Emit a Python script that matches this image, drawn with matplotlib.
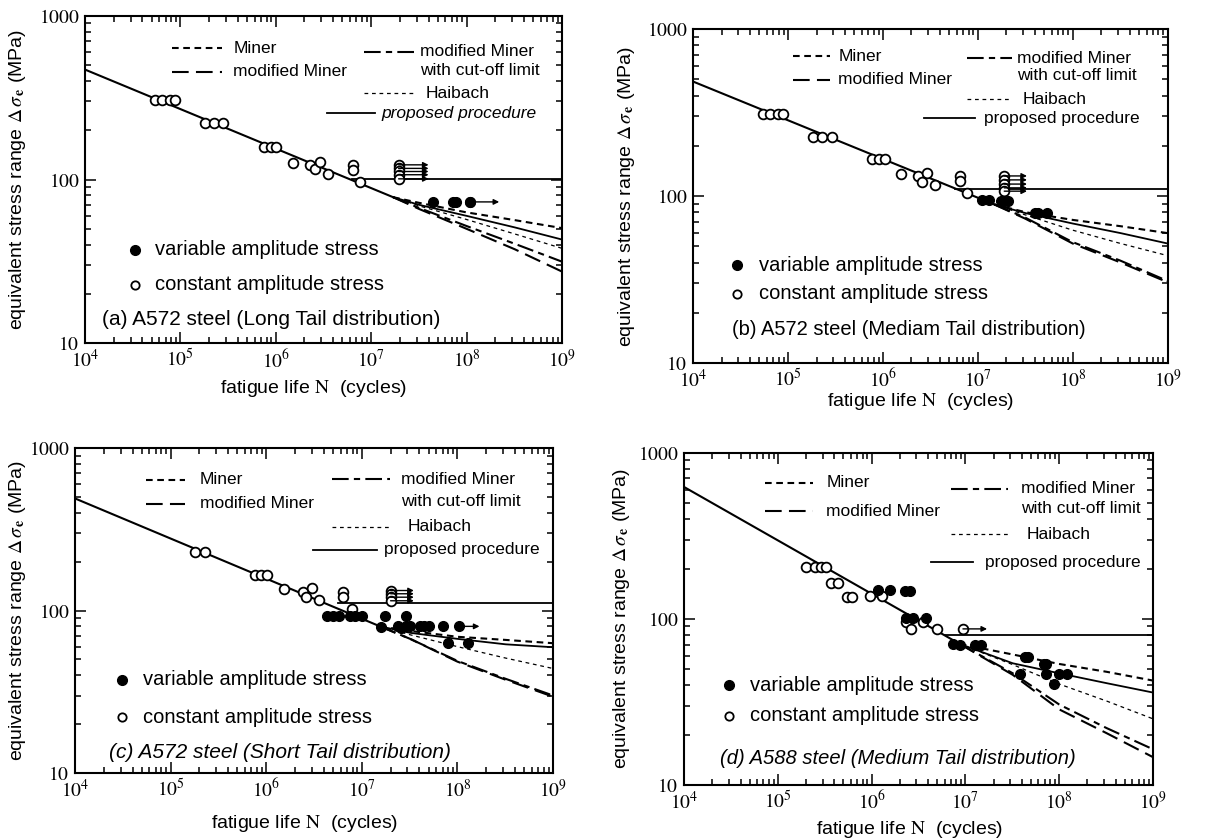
import numpy as np
import matplotlib
matplotlib.use('Agg')
import matplotlib.pyplot as plt
from matplotlib.ticker import LogLocator, FuncFormatter, NullFormatter

plt.rcParams['font.family'] = ['Liberation Sans', 'DejaVu Sans']
plt.rcParams['mathtext.fontset'] = 'stix'

# ---------------- Panel (a) ----------------
a_sn_N = [1e4, 1.7e7]
a_sn_S = [470, 78]
a_lim_N = [6.3e6, 1e9]
a_lim_S = [101, 101]
a_tail_N = [1.7e7, 3.2e7, 1e8, 3.2e8, 1e9]
a_miner = [78, 72, 63, 56.5, 50.5]
a_proposed = [78, 70, 60, 51, 43]
a_haibach = [78, 69, 57, 46.5, 38]
a_cutoff = [78, 67, 52, 40.5, 31.5]
a_modminer = [78, 66, 50, 37.5, 27.4]
a_ca_N = [5.4e4, 6.4e4, 7.8e4, 8.8e4, 1.8e5, 2.25e5, 2.8e5, 7.6e5, 8.9e5, 1.0e6,
          1.5e6, 2.3e6, 2.6e6, 2.9e6, 3.5e6, 6.4e6, 6.4e6, 7.7e6]
a_ca_S = [307, 307, 307, 307, 221, 221, 221, 157, 157, 157,
          127, 122, 116, 128, 108, 122, 115, 96]
a_ro_N = [1.94e7, 1.94e7, 1.94e7, 1.94e7, 1.94e7]
a_ro_S = [123, 117, 112, 107, 101]
a_ro_end = 4.0e7
a_va_N = [4.5e7, 7.2e7, 7.7e7, 1.1e8]
a_va_S = [73, 73, 73, 73]
a_varo_N = [1.1e8]
a_varo_S = [73]
a_varo_end = 2.2e8

# ---------------- Panel (b) ----------------
b_sn_N = [1e4, 1.5e7]
b_sn_S = [485, 89]
b_lim_N = [5.8e6, 1e9]
b_lim_S = [110, 110]
b_tail_N = [1.5e7, 3.2e7, 1e8, 3.2e8, 1e9]
b_miner = [89, 80, 72, 66, 60]
b_proposed = [89, 79, 68.5, 60, 52]
b_haibach = [89, 77, 62.5, 52, 44]
b_cutoff = [89, 74, 53, 41, 31]
b_modminer = [89, 73, 52, 40, 30.5]
b_ca_N = [5.5e4, 6.5e4, 7.9e4, 8.9e4, 1.85e5, 2.3e5, 2.9e5, 7.7e5, 9e5, 1.06e6,
          1.55e6, 2.35e6, 2.6e6, 2.9e6, 3.5e6, 6.5e6, 6.5e6, 7.7e6]
b_ca_S = [310, 310, 310, 310, 227, 227, 227, 166, 166, 166,
          136, 131, 122, 137, 116, 132, 123, 104]
b_ro_N = [1.9e7, 1.9e7, 1.9e7, 1.9e7, 1.9e7]
b_ro_S = [132, 125, 118, 112, 107]
b_ro_end = 3.3e7
b_va_N = [1.1e7, 1.3e7, 1.75e7, 1.9e7, 2.1e7, 4.0e7, 4.3e7, 5.4e7]
b_va_S = [95, 95, 94, 94, 94, 79, 79, 79]

# ---------------- Panel (c) ----------------
c_sn_N = [1e4, 1.55e7]
c_sn_S = [491, 80]
c_lim_N = [5.6e6, 1e9]
c_lim_S = [111, 111]
c_tail_N = [1.55e7, 3.2e7, 1e8, 3.2e8, 1e9]
c_miner = [80, 75, 69, 66, 63]
c_proposed = [80, 73, 67, 62, 59.5]
c_haibach = [80, 71, 60, 51, 44]
c_cutoff = [80, 67, 49, 38, 30]
c_modminer = [80, 67, 48.5, 37.5, 29.5]
c_ca_N = [1.8e5, 2.3e5, 7.6e5, 8.9e5, 1.02e6, 1.54e6, 2.4e6, 2.6e6, 3.0e6, 3.6e6,
          6.4e6, 6.4e6, 7.9e6]
c_ca_S = [231, 231, 166, 166, 166, 135, 131, 122, 137, 116, 131, 122, 102]
c_ro_N = [2e7, 2e7, 2e7, 2e7]
c_ro_S = [133, 127, 121, 115]
c_ro_end = 3.5e7
c_va_N = [4.3e6, 5.0e6, 5.8e6, 7.5e6, 8.5e6, 1.0e7, 1.74e7, 2.9e7,
          1.6e7, 2.4e7, 2.6e7, 2.9e7, 3.2e7, 4.1e7, 4.5e7, 5.0e7, 7.0e7,
          8.0e7, 1.3e8]
c_va_S = [93, 93, 93, 93, 93, 93, 93, 93,
          79, 80, 78, 80, 80, 80, 80, 80, 80,
          63, 63]
c_varo_N = [1.05e8]
c_varo_S = [80]
c_varo_end = 1.7e8

# ---------------- Panel (d) ----------------
d_sn_N = [1e4, 8.7e6]
d_sn_S = [622, 70.6]
d_lim_N = [6.1e6, 1e9]
d_lim_S = [79.5, 79.5]
d_tail_N = [8.7e6, 3.2e7, 1e8, 3.2e8, 1e9]
d_miner = [70.6, 61, 53.5, 48, 42.5]
d_proposed = [70.6, 54, 47, 41, 36]
d_haibach = [70.6, 53, 40.5, 32, 25]
d_cutoff = [70.6, 47, 30.5, 22, 16.4]
d_modminer = [70.6, 46, 28.5, 20.5, 14.7]
d_ca_N = [2.0e5, 2.5e5, 2.9e5, 3.3e5, 3.7e5, 4.4e5, 5.5e5, 6.1e5, 9.5e5, 1.3e6,
          2.35e6, 2.6e6, 3.5e6, 5.0e6]
d_ca_S = [205, 205, 205, 205, 164, 164, 135, 135, 137, 137, 95.5, 87, 95.5, 87]
d_ro_N = [9.4e6]
d_ro_S = [87]
d_ro_end = 1.7e7
d_va_N = [1.17e6, 1.56e6, 2.25e6, 2.55e6, 2.35e6, 2.75e6, 3.8e6, 7.4e6, 8.7e6,
          1.26e7, 1.48e7, 4.3e7, 4.7e7, 6.8e7, 7.3e7, 3.8e7, 7.3e7, 1.0e8, 1.2e8, 8.8e7]
d_va_S = [150, 150, 148, 148, 101, 101, 101, 71, 70,
          70, 70, 59, 59, 53.5, 53.5, 46.5, 46.5, 46.5, 46.5, 40.6]

labels_legend = ["Miner", "modified Miner", "modified Miner", "with cut-off limit",
                 "Haibach", "proposed procedure"]
panel_titles = ["(a) A572 steel (Long Tail distribution)",
                "(b) A572 steel (Mediam Tail distribution)",
                "(c) A572 steel (Short Tail distribution)",
                "(d) A588 steel (Medium Tail distribution)"]

STY = dict(
    miner=dict(color='black', lw=1.5, dashes=(3.2, 2.2)),
    modminer=dict(color='black', lw=1.5, dashes=(8, 3.5)),
    cutoff=dict(color='black', lw=1.5, dashes=(8, 2.5, 3, 2.5)),
    haibach=dict(color='black', lw=0.9, dashes=(3, 3)),
    proposed=dict(color='black', lw=1.3, ls='-'),
)

fig = plt.figure(figsize=(12.29, 8.39), dpi=100)
ax_a = fig.add_axes([0.0692, 0.591, 0.388, 0.390])
ax_b = fig.add_axes([0.564, 0.5673, 0.386, 0.398])
ax_c = fig.add_axes([0.061, 0.0787, 0.389, 0.387])
ax_d = fig.add_axes([0.5566, 0.0644, 0.3816, 0.396])


def draw(ax, sn_N, sn_S, lim_N, lim_S, tail_N, miner, proposed, haibach, cutoff,
         modminer, ca_N, ca_S, ro_N, ro_S, ro_end, va_N, va_S, varo, title,
         leg, title_italic, proposed_italic, ylab_x, xlab_y, title_fs):
    ax.set_xscale('log')
    ax.set_yscale('log')
    ax.set_xlim(1e4, 1e9)
    ax.set_ylim(10, 1000)
    # curves
    ax.plot(sn_N, sn_S, color='black', lw=1.5)
    ax.plot(lim_N, lim_S, color='black', lw=1.3)
    ax.plot(tail_N, miner, **STY['miner'])
    ax.plot(tail_N, modminer, **STY['modminer'])
    ax.plot(tail_N, cutoff, **STY['cutoff'])
    ax.plot(tail_N, haibach, **STY['haibach'])
    ax.plot(tail_N, proposed, **STY['proposed'])
    # run-outs (constant amplitude)
    for n, s in zip(ro_N, ro_S):
        ax.annotate('', xy=(ro_end, s), xytext=(n, s),
                    arrowprops=dict(arrowstyle='-|>', lw=1.0, color='black',
                                    mutation_scale=8, shrinkA=0, shrinkB=0))
    if varo is not None:
        vN, vS, vend = varo
        for n, s in zip(vN, vS):
            ax.annotate('', xy=(vend, s), xytext=(n, s),
                        arrowprops=dict(arrowstyle='-|>', lw=1.0, color='black',
                                        mutation_scale=8, shrinkA=0, shrinkB=0))
    ax.plot(ca_N, ca_S, 'o', ms=7, mfc='white', mec='black', mew=1.3, ls='none')
    ax.plot(ro_N, ro_S, 'o', ms=7, mfc='white', mec='black', mew=1.3, ls='none')
    ax.plot(va_N, va_S, 'o', ms=7, mfc='black', mec='black', ls='none')
    if varo is not None:
        ax.plot(varo[0], varo[1], 'o', ms=7, mfc='black', mec='black', ls='none')

    # legend (drawn in axes fraction)
    (mx0, mx1, mtx, my1, my2, cx0, cx1, ctx, cy1, cy2, hy,
     px0, px1, ptx, py, kx, ktx, ky1, ky2, tx, ty) = leg
    T = ax.transAxes
    fs = 12.5
    ax.plot([mx0, mx1], [my1, my1], transform=T, **STY['miner'])
    ax.text(mtx, my1, labels_legend[0], transform=T, fontsize=fs, va='center')
    ax.plot([mx0, mx1], [my2, my2], transform=T, **STY['modminer'])
    ax.text(mtx, my2, labels_legend[1], transform=T, fontsize=fs, va='center')
    ax.plot([cx0, cx1], [cy1, cy1], transform=T, **STY['cutoff'])
    ax.text(ctx, cy1, labels_legend[2], transform=T, fontsize=fs, va='center')
    ax.text(ctx, cy2, labels_legend[3], transform=T, fontsize=fs, va='center')
    ax.plot([cx0, cx1], [hy, hy], transform=T, **STY['haibach'])
    ax.text(ctx + 0.012, hy, labels_legend[4], transform=T, fontsize=fs, va='center')
    ax.plot([px0, px1], [py, py], transform=T, **STY['proposed'])
    ax.text(ptx, py, labels_legend[5], transform=T, fontsize=fs, va='center',
            style='italic' if proposed_italic else 'normal')
    ax.plot([kx], [ky1], 'o', ms=7, mfc='black', mec='black', transform=T)
    ax.text(ktx, ky1, "variable amplitude stress", transform=T, fontsize=14.5,
            va='center')
    ax.plot([kx], [ky2], 'o', ms=6, mfc='white', mec='black', mew=1.3, transform=T)
    ax.text(ktx, ky2, "constant amplitude stress", transform=T, fontsize=14.5,
            va='center')
    ax.text(tx, ty, title, transform=T, fontsize=title_fs, va='center',
            style='italic' if title_italic else 'normal')

    # axes styling
    ax.xaxis.set_major_locator(LogLocator(base=10, numticks=10))
    ax.xaxis.set_minor_locator(LogLocator(base=10, subs=np.arange(2, 10), numticks=10))
    ax.yaxis.set_major_locator(LogLocator(base=10, numticks=10))
    ax.yaxis.set_minor_locator(LogLocator(base=10, subs=np.arange(2, 10), numticks=10))
    ax.xaxis.set_major_formatter(FuncFormatter(
        lambda v, p: r'$10^{%d}$' % int(round(np.log10(v)))))
    ax.yaxis.set_major_formatter(FuncFormatter(lambda v, p: r'$%d$' % int(round(v))))
    ax.xaxis.set_minor_formatter(NullFormatter())
    ax.yaxis.set_minor_formatter(NullFormatter())
    ax.tick_params(which='both', direction='in', top=True, right=True,
                   labelsize=14, width=1.1, colors='black')
    ax.tick_params(which='major', length=8, pad=4)
    ax.tick_params(which='minor', length=4)
    for sp in ax.spines.values():
        sp.set_linewidth(1.5)
    ax.set_xlabel(r"fatigue life $\mathrm{N}$  (cycles)", fontsize=14)
    ax.set_ylabel(r"equivalent stress range $\Delta\,\sigma_{\,\mathbf{e}}$ (MPa)",
                  fontsize=14)
    ax.yaxis.set_label_coords(ylab_x, 0.5)
    ax.xaxis.set_label_coords(0.48, xlab_y)


leg_a = (0.182, 0.287, 0.311, 0.901, 0.830,
         0.584, 0.689, 0.703, 0.891, 0.832, 0.764,
         0.507, 0.608, 0.622, 0.703,
         0.105, 0.147, 0.285, 0.178, 0.035, 0.071)
leg_b = (0.211, 0.289, 0.306, 0.918, 0.848,
         0.577, 0.673, 0.682, 0.913, 0.860, 0.790,
         0.486, 0.595, 0.613, 0.733,
         0.093, 0.139, 0.293, 0.208, 0.081, 0.100)
leg_c = (0.148, 0.230, 0.261, 0.903, 0.829,
         0.537, 0.659, 0.683, 0.905, 0.836, 0.759,
         0.498, 0.631, 0.646, 0.687,
         0.098, 0.143, 0.287, 0.171, 0.072, 0.062)
leg_d = (0.172, 0.275, 0.303, 0.910, 0.824,
         0.570, 0.690, 0.719, 0.891, 0.831, 0.754,
         0.527, 0.616, 0.641, 0.670,
         0.095, 0.141, 0.300, 0.208, 0.076, 0.080)

draw(ax_a, a_sn_N, a_sn_S, a_lim_N, a_lim_S, a_tail_N, a_miner, a_proposed,
     a_haibach, a_cutoff, a_modminer, a_ca_N, a_ca_S, a_ro_N, a_ro_S, a_ro_end,
     a_va_N, a_va_S, (a_varo_N, a_varo_S, a_varo_end), panel_titles[0], leg_a,
     False, True, -0.119, -0.107, 15)
draw(ax_b, b_sn_N, b_sn_S, b_lim_N, b_lim_S, b_tail_N, b_miner, b_proposed,
     b_haibach, b_cutoff, b_modminer, b_ca_N, b_ca_S, b_ro_N, b_ro_S, b_ro_end,
     b_va_N, b_va_S, None, panel_titles[1], leg_b,
     False, False, -0.118, -0.084, 14.5)
draw(ax_c, c_sn_N, c_sn_S, c_lim_N, c_lim_S, c_tail_N, c_miner, c_proposed,
     c_haibach, c_cutoff, c_modminer, c_ca_N, c_ca_S, c_ro_N, c_ro_S, c_ro_end,
     c_va_N, c_va_S, (c_varo_N, c_varo_S, c_varo_end), panel_titles[2], leg_c,
     True, False, -0.098, -0.123, 15)
draw(ax_d, d_sn_N, d_sn_S, d_lim_N, d_lim_S, d_tail_N, d_miner, d_proposed,
     d_haibach, d_cutoff, d_modminer, d_ca_N, d_ca_S, d_ro_N, d_ro_S, d_ro_end,
     d_va_N, d_va_S, None, panel_titles[3], leg_d,
     True, False, -0.111, -0.102, 14.5)

fig.savefig('out.png', dpi=100)
